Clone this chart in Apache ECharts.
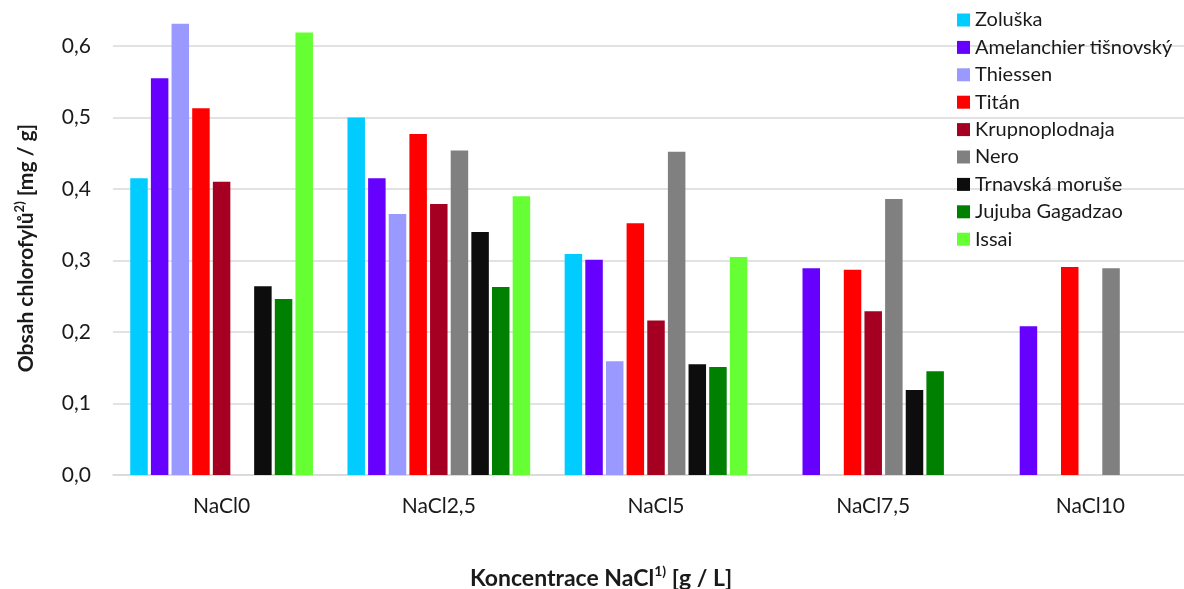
<!DOCTYPE html>
<html>
<head>
<meta charset="utf-8">
<script src="https://cdn.jsdelivr.net/npm/echarts@6/dist/echarts.min.js"></script>
<style>
  html, body { margin: 0; padding: 0; background: #ffffff; }
  #chart { width: 1184px; height: 589px; }
</style>
</head>
<body>
<div id="chart"></div>
<script>
// Chlorophyll content per cultivar at each NaCl concentration (mg / g); null = not measured
const categories = ['NaCl0', 'NaCl2,5', 'NaCl5', 'NaCl7,5', 'NaCl10'];

const zoluska      = [0.415, 0.500, 0.309, null,  null];
const amelanchier  = [0.555, 0.415, 0.301, 0.289, 0.208];
const thiessen     = [0.631, 0.365, 0.159, null,  null];
const titan        = [0.513, 0.477, 0.352, 0.287, 0.291];
const krupnoplod   = [0.410, 0.379, 0.216, 0.229, null];
const nero         = [null,  0.454, 0.452, 0.386, 0.289];
const trnavska     = [0.264, 0.340, 0.155, 0.119, null];
const jujuba       = [0.246, 0.263, 0.151, 0.145, null];
const issai        = [0.619, 0.390, 0.305, null,  null];

const seriesNames = ['Zoluška', 'Amelanchier tišnovský', 'Thiessen', 'Titán', 'Krupnoplodnaja',
                     'Nero', 'Trnavská moruše', 'Jujuba Gagadzao', 'Issai'];
const seriesData = [zoluska, amelanchier, thiessen, titan, krupnoplod, nero, trnavska, jujuba, issai];
const seriesColors = ['#00CCFF', '#6600FF', '#9999FF', '#FF0000', '#A50021',
                      '#808080', '#0D0D0D', '#008000', '#66FF33'];

const yTicks = [0, 0.1, 0.2, 0.3, 0.4, 0.5, 0.6, 0.7];

const FONT = 'Lato, "Open Sans", sans-serif';

const chart = echarts.init(document.getElementById('chart'), null, { renderer: 'canvas' });

chart.setOption({
  animation: false,
  backgroundColor: '#ffffff',
  textStyle: { fontFamily: FONT },
  grid: { left: 113, right: -15, top: -25.5, bottom: 114, containLabel: false, outerBoundsMode: 'none' },
  legend: {
    orient: 'vertical',
    left: 957,
    top: 9,
    padding: 0,
    itemWidth: 13,
    itemHeight: 13,
    itemGap: 5.4,
    icon: 'rect',
    textStyle: { fontFamily: FONT, fontSize: 20, color: '#1a1a1a', lineHeight: 22, padding: [0, 0, 0, 0] },
    data: seriesNames
  },
  xAxis: {
    type: 'category',
    data: categories,
    axisLine: { show: true, lineStyle: { color: '#d9d9d9', width: 1.5 } },
    axisTick: { show: false },
    axisLabel: { fontFamily: FONT, fontSize: 21, color: '#1a1a1a', margin: 21 }
  },
  yAxis: {
    type: 'value',
    min: yTicks[0],
    max: yTicks[yTicks.length - 1],
    interval: 0.1,
    axisLine: { show: false },
    axisTick: { show: false },
    splitLine: { lineStyle: { color: '#d9d9d9', width: 1.5 } },
    axisLabel: {
      fontFamily: FONT, fontSize: 21, color: '#1a1a1a', margin: 22,
      formatter: v => v.toFixed(1).replace('.', ',')
    }
  },
  series: seriesNames.map((name, i) => ({
    name,
    type: 'bar',
    data: seriesData[i],
    barWidth: 17.5,
    barGap: '18%',
    itemStyle: { color: seriesColors[i] }
  })),
  graphic: [
    {
      type: 'text',
      x: 601,
      y: 577,
      style: {
        text: '{b|Koncentrace NaCl}{s|1)}{b| [g / L]}',
        align: 'center',
        verticalAlign: 'middle',
        rich: {
          b: { fontFamily: FONT, fontSize: 23, fontWeight: 'bold', fill: '#1a1a1a', lineHeight: 26, verticalAlign: 'bottom' },
          s: { fontFamily: FONT, fontSize: 14, fontWeight: 'bold', fill: '#1a1a1a', lineHeight: 26, verticalAlign: 'top', padding: [0, 0, 9, 0] }
        }
      }
    },
    {
      type: 'text',
      x: 25,
      y: 248,
      rotation: Math.PI / 2,
      style: {
        text: '{b|Obsah chlorofylů}{s|2)}{b| [mg / g]}',
        align: 'center',
        verticalAlign: 'middle',
        rich: {
          b: { fontFamily: FONT, fontSize: 21, fontWeight: 'bold', fill: '#1a1a1a', lineHeight: 24, verticalAlign: 'bottom' },
          s: { fontFamily: FONT, fontSize: 13, fontWeight: 'bold', fill: '#1a1a1a', lineHeight: 24, verticalAlign: 'top', padding: [0, 0, 8, 0] }
        }
      }
    }
  ]
});
</script>
</body>
</html>
